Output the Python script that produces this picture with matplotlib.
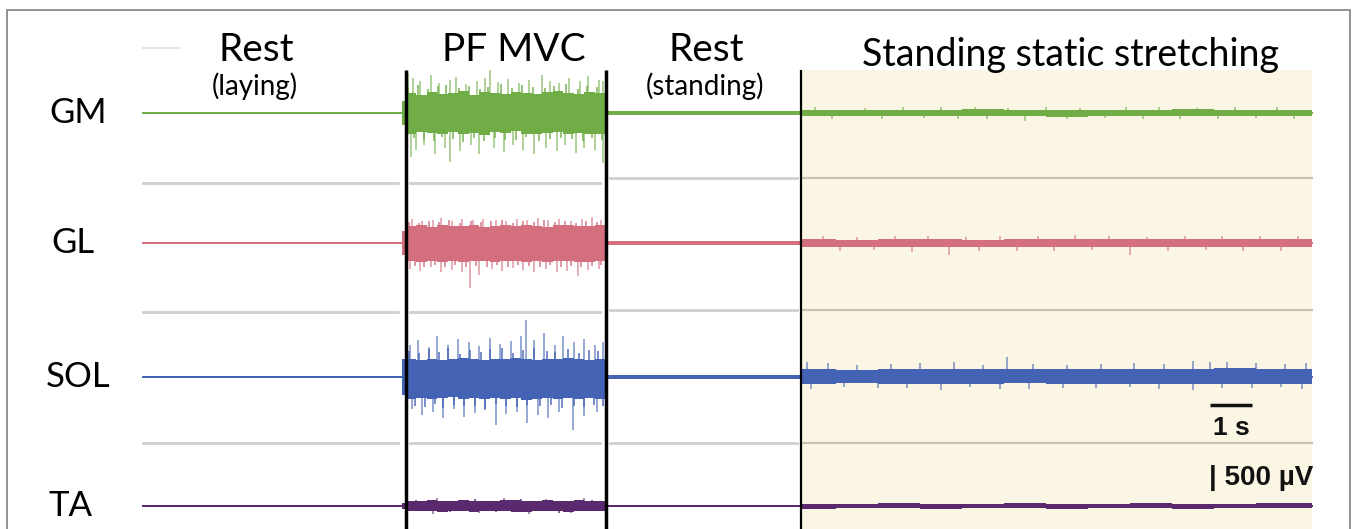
import matplotlib
matplotlib.use("Agg")
import matplotlib.pyplot as plt
from matplotlib.patches import Rectangle

# ---------------- data ----------------
MUSCLES = ["GM", "GL", "SOL", "TA"]
COLORS = ["#70AD47", "#D46F7E", "#4563B5", "#5B2A6E"]
PHASES = ["Rest", "PF MVC", "Rest", "Standing static stretching"]
PHASE_SUB = ["(laying)", "", "(standing)", ""]
PHASE_BOUNDS_S = [0.0, 6.26, 11.02, 15.67, 27.83]   # seconds
SCALE_T_S = 1.0          # time scale bar
SCALE_V_UV = 500         # amplitude scale bar

# envelope knots (s) — piecewise constant from each knot to the next
KNOT_T = [0.0, 6.17, 6.26, 6.5, 6.75, 7.0, 7.25, 7.5, 7.75, 8.0, 8.25, 8.5,
          8.75, 9.0, 9.25, 9.5, 9.75, 10.0, 10.25, 10.5, 10.75, 11.02,
          15.67, 16.5, 17.5, 18.5, 19.5, 20.5, 21.5, 22.5, 23.5, 24.5,
          25.5, 26.5, 27.83]

# core envelope half-amplitudes (µV) above / below the baseline
GM_UP = [25, 270, 430, 390, 450, 420, 440, 470, 400, 450, 430, 410, 460, 440,
         420, 450, 470, 430, 410, 450, 440, 45, 70, 65, 75, 70, 80, 65, 70, 75,
         70, 80, 70, 75, 70]
GM_LO = [25, 270, 450, 420, 440, 460, 410, 450, 430, 470, 420, 440, 400, 450,
         460, 430, 420, 450, 440, 460, 450, 45, 65, 70, 70, 75, 70, 70, 80, 65,
         70, 75, 70, 70, 70]
GL_UP = [20, 260, 360, 380, 350, 390, 370, 360, 380, 350, 370, 390, 360, 380,
         370, 350, 380, 390, 360, 370, 380, 35, 80, 75, 85, 80, 75, 85, 80, 90,
         80, 85, 80, 85, 80]
GL_LO = [20, 260, 400, 420, 390, 410, 380, 420, 400, 390, 410, 380, 400, 420,
         390, 410, 400, 380, 420, 410, 400, 35, 85, 80, 90, 85, 80, 85, 80, 85,
         80, 90, 85, 80, 85]
SOL_UP = [22, 400, 380, 360, 400, 370, 390, 410, 380, 360, 400, 390, 420, 380,
          370, 400, 390, 410, 380, 370, 400, 45, 170, 160, 180, 170, 165, 175,
          180, 170, 165, 175, 185, 170, 175]
SOL_LO = [22, 400, 470, 450, 480, 460, 440, 470, 460, 480, 450, 470, 460, 490,
          470, 450, 480, 460, 470, 450, 470, 45, 150, 140, 155, 145, 150, 140,
          150, 155, 145, 150, 155, 145, 150]
TA_UP = [22, 60, 110, 100, 120, 110, 105, 125, 110, 115, 100, 120, 130, 110,
         105, 120, 115, 110, 125, 110, 115, 30, 50, 45, 55, 50, 50, 55, 45, 50,
         55, 50, 50, 55, 50]
TA_LO = [22, 60, 115, 110, 105, 120, 110, 115, 120, 105, 115, 110, 120, 125,
         110, 115, 105, 120, 110, 115, 110, 30, 55, 50, 50, 55, 50, 45, 55, 50,
         50, 55, 50, 50, 50]

# tall individual spikes (s, µV signed)
GM_SPK_T = [6.32, 6.42, 6.6, 6.85, 7.05, 7.3, 7.45, 7.7, 7.95, 8.15, 8.26, 8.45,
            8.7, 8.95, 9.2, 9.5, 9.7, 9.9, 10.15, 10.4, 10.6, 10.85, 10.95,
            6.38, 6.5, 6.7, 6.95, 7.2, 7.3, 7.55, 7.8, 8.0, 8.35, 8.6, 8.8,
            9.05, 9.3, 9.6, 9.85, 10.05, 10.3, 10.5, 10.75, 10.95,
            16.0, 17.2, 18.1, 19.0, 19.8, 20.6, 21.5, 22.3, 23.4, 24.2, 25.1,
            26.0, 27.0,
            16.4, 17.6, 18.6, 19.4, 20.1, 21.0, 22.0, 22.9, 23.8, 24.7, 25.6,
            26.5, 27.4]
GM_SPK_V = [870, 760, 700, 820, 650, 720, 780, 640, 700, 760, 930, 680,
            740, 660, 720, 820, 700, 650, 760, 690, 800, 720, 700,
            -950, -800, -700, -880, -760, -1060, -820, -700, -900, -760, -840,
            -700, -800, -900, -760, -820, -700, -860, -760, -800, -1080,
            120, 110, 140, 120, 130, 110, 125, 115, 130, 120, 110, 125, 120,
            -130, -120, -110, -140, -120, -170, -120, -110, -130, -120, -125,
            -115, -120]

GL_SPK_T = [6.4, 6.65, 6.9, 7.1, 7.35, 7.6, 7.85, 8.1, 8.4, 8.65, 8.9, 9.15,
            9.4, 9.65, 9.9, 10.2, 10.45, 10.7, 10.9,
            6.35, 6.6, 6.85, 7.1, 7.35, 7.6, 7.79, 8.0, 8.3, 8.55, 8.8, 9.05,
            9.3, 9.6, 9.85, 10.1, 10.35, 10.6, 10.85,
            16.2, 17.0, 17.9, 18.7, 19.6, 20.4, 21.3, 22.2, 23.0, 23.9, 24.8,
            25.7, 26.6, 27.5,
            16.6, 17.4, 18.3, 19.2, 19.9, 20.8, 21.7, 22.6, 23.5, 24.4, 25.3,
            26.2, 27.1]
GL_SPK_V = [520, 480, 500, 540, 470, 510, 490, 530, 500, 480, 520, 500,
            540, 490, 510, 470, 530, 560, 500,
            -560, -600, -520, -620, -580, -640, -980, -700, -560, -600, -540,
            -580, -620, -560, -640, -600, -720, -580, -560,
            150, 140, 160, 150, 140, 160, 150, 170, 150, 140, 160, 150, 145, 155,
            -170, -160, -190, -260, -170, -170, -180, -160, -250, -170, -160,
            -180, -170]

SOL_SPK_T = [6.35, 6.55, 6.8, 7.0, 7.25, 7.5, 7.75, 8.0, 8.25, 8.5, 8.75, 9.0,
             9.12, 9.3, 9.55, 9.8, 10.0, 10.25, 10.5, 10.75, 10.95,
             6.4, 6.65, 6.9, 7.15, 7.4, 7.65, 7.9, 8.15, 8.4, 8.65, 8.9, 9.15,
             9.4, 9.65, 9.9, 10.24, 10.5, 10.8,
             15.8, 16.3, 17.0, 17.8, 18.5, 19.3, 20.0, 20.57, 21.2, 22.0, 22.8,
             23.6, 24.3, 25.0, 25.4, 25.8, 26.5, 27.2, 27.7,
             15.9, 16.7, 17.5, 18.2, 19.0, 19.7, 20.4, 21.1, 21.9, 22.7, 23.5,
             24.2, 25.0, 25.7, 26.4, 27.1, 27.6]
SOL_SPK_V = [700, 800, 650, 900, 700, 820, 760, 680, 850, 720, 780, 900,
             1240, 800, 960, 700, 880, 760, 820, 700, 760,
             -700, -820, -760, -900, -700, -860, -780, -720, -1040, -800, -760,
             -1000, -820, -880, -760, -1150, -840, -760,
             330, 300, 260, 280, 300, 320, 270, 430, 290, 260, 280, 310, 290,
             350, 330, 320, 300, 280, 310,
             -260, -220, -240, -230, -280, -220, -250, -260, -230, -240, -220,
             -250, -280, -230, -240, -220, -250]

TA_SPK_T = [7.0, 8.6, 9.6, 10.5, 6.9, 8.0, 9.2, 10.2]
TA_SPK_V = [170, 180, 160, 170, -170, -160, -170, -160]

# short spikes that fringe the burst edges during the MVC (s, µV signed)
GM_FINE_T = [6.30, 6.45, 6.55, 6.68, 6.78, 6.92, 7.02, 7.12, 7.22, 7.38, 7.52,
             7.62, 7.75, 7.88, 8.02, 8.12, 8.22, 8.38, 8.52, 8.62, 8.78, 8.88,
             9.02, 9.12, 9.28, 9.42, 9.58, 9.68, 9.78, 9.95, 10.08, 10.22,
             10.35, 10.48, 10.58, 10.7, 10.8, 10.92]
GM_FINE_V = [560, -540, 600, -580, 520, -600, 580, -520, 610, -560, 540, -620,
             590, -550, 530, -600, 570, -540, 620, -580, 550, -590, 600, -530,
             560, -610, 540, -570, 590, -550, 620, -560, 530, -600, 580, -540,
             560, -590]
GL_FINE_T = [6.33, 6.47, 6.58, 6.7, 6.82, 6.95, 7.05, 7.18, 7.28, 7.42, 7.55,
             7.68, 7.8, 7.92, 8.05, 8.18, 8.28, 8.42, 8.55, 8.68, 8.8, 8.92,
             9.05, 9.18, 9.3, 9.45, 9.55, 9.7, 9.82, 9.95, 10.05, 10.18, 10.3,
             10.42, 10.55, 10.68, 10.8, 10.9]
GL_FINE_V = [460, -500, 440, -520, 480, -470, 450, -510, 490, -480, 430, -530,
             470, -490, 450, -520, 480, -470, 500, -510, 440, -480, 470, -500,
             450, -530, 490, -470, 460, -510, 480, -490, 440, -520, 470, -500,
             460, -480]
SOL_FINE_T = [6.33, 6.48, 6.58, 6.71, 6.81, 6.95, 7.05, 7.15, 7.25, 7.41, 7.55,
              7.65, 7.78, 7.91, 8.05, 8.15, 8.25, 8.41, 8.55, 8.65, 8.81, 8.91,
              9.05, 9.15, 9.31, 9.45, 9.61, 9.71, 9.81, 9.98, 10.11, 10.25,
              10.38, 10.51, 10.61, 10.73, 10.83, 10.95]
SOL_FINE_V = [560, -620, 520, -660, 600, -580, 540, -680, 620, -600, 500, -640,
              580, -620, 540, -700, 600, -580, 640, -620, 520, -660, 580, -600,
              620, -640, 560, -600, 540, -680, 600, -620, 520, -660, 580, -600,
              560, -640]
TA_FINE_T = [6.5, 7.3, 7.9, 8.4, 9.0, 9.9, 10.7]
TA_FINE_V = [140, -140, 150, -130, 145, -150, 140]

ENV_UP = [GM_UP, GL_UP, SOL_UP, TA_UP]
ENV_LO = [GM_LO, GL_LO, SOL_LO, TA_LO]
SPK_T = [GM_SPK_T, GL_SPK_T, SOL_SPK_T, TA_SPK_T]
SPK_V = [GM_SPK_V, GL_SPK_V, SOL_SPK_V, TA_SPK_V]
FINE_T = [GM_FINE_T, GL_FINE_T, SOL_FINE_T, TA_FINE_T]
FINE_V = [GM_FINE_V, GL_FINE_V, SOL_FINE_V, TA_FINE_V]

# ---------------- layout ----------------
W, H = 1358, 529
X0_PX = 143          # pixel of t = 0
PX_PER_S = 42.0
UV_PER_PX = 21.7
BASE_PX = [113, 243, 377, 506]
LABEL_X_PX = [78, 73, 78, 70]
TITLE_X_PX = [256, 514, 706, 1070]
TITLE_Y_PX = [50, 50, 50, 55]
TITLE_SIZE = [28, 28, 28, 27]


def tx(px):
    return (px - X0_PX) / PX_PER_S


def ty(py):
    return -py * UV_PER_PX


fig = plt.figure(figsize=(W / 100, H / 100), dpi=100)
ax = fig.add_axes([0, 0, 1, 1])
ax.set_xlim(tx(0), tx(W))
ax.set_ylim(ty(H), ty(0))
ax.axis("off")

TITLE_FONT = ["Lato", "DejaVu Sans"]
BOLD_FONT = ["Liberation Sans", "DejaVu Sans"]

# outer frame
ax.add_patch(Rectangle((tx(7), ty(545)), tx(1350) - tx(7), ty(10) - ty(545),
                       fill=False, ec="#8a8a8a", lw=1.3, zorder=1))

# beige stretching region
t_str = PHASE_BOUNDS_S[3]
t_end = PHASE_BOUNDS_S[4]
ax.add_patch(Rectangle((t_str, ty(H)), t_end - t_str, ty(70) - ty(H),
                       fc="#FBF5E4", ec="none", zorder=0))

# separators
ax.plot([tx(143), tx(180)], [ty(48), ty(48)], color="#E6E6E6", lw=1.5, zorder=1)
for yl, yr in [(183, 178), (312, 310), (443, 443)]:
    ax.plot([tx(143), tx(398)], [ty(yl)] * 2, color="#CFCFCF", lw=2, zorder=1)
    ax.plot([tx(410), tx(600)], [ty(yl)] * 2, color="#CFCFCF", lw=2, zorder=1)
    ax.plot([tx(610), tx(797)], [ty(yr)] * 2, color="#CFCFCF", lw=2, zorder=1)
    ax.plot([tx(803), tx(1312)], [ty(yr)] * 2, color="#C9C1AE", lw=1.6, zorder=1)

# signals
for i, m in enumerate(MUSCLES):
    off = ty(BASE_PX[i])
    c = COLORS[i]
    up = [off + v for v in ENV_UP[i]]
    lo = [off - v for v in ENV_LO[i]]
    ax.fill_between(KNOT_T, lo, up, step="post", color=c, lw=0, zorder=3)
    ax.plot([PHASE_BOUNDS_S[0], PHASE_BOUNDS_S[-1]], [off, off], color=c,
            lw=1.4, zorder=3)
    ax.vlines(FINE_T[i], off, [off + v for v in FINE_V[i]], color=c, lw=1.2,
              alpha=0.85, zorder=3)
    ax.vlines(SPK_T[i], off, [off + v for v in SPK_V[i]], color=c, lw=1.3,
              alpha=0.6, zorder=3)
    ax.text(tx(LABEL_X_PX[i]), off, m, fontsize=25, family=TITLE_FONT,
            ha="center", va="center", color="black")

# phase boundaries
for t, lw in zip(PHASE_BOUNDS_S[1:4], [2.5, 2.5, 1.6]):
    ax.plot([t, t], [ty(70), ty(H + 5)], color="black", lw=lw, zorder=5,
            solid_capstyle="butt")

# phase titles
for xp, yp, fs, name, sub in zip(TITLE_X_PX, TITLE_Y_PX, TITLE_SIZE, PHASES,
                                 PHASE_SUB):
    ax.text(tx(xp), ty(yp), name, fontsize=fs, family=TITLE_FONT, ha="center",
            va="center", color="black", zorder=6)
    if sub:
        ax.text(tx(xp - 1), ty(86), sub, fontsize=20, family=TITLE_FONT,
                ha="center", va="center", color="black", zorder=6)

# scale bars
sb_t0 = tx(1210)
ax.plot([sb_t0, sb_t0 + SCALE_T_S], [ty(405), ty(405)], color="#111111",
        lw=2.5, zorder=6, solid_capstyle="butt")
ax.text(sb_t0 + SCALE_T_S / 2, ty(428), f"{SCALE_T_S:g} s", fontsize=19,
        family=BOLD_FONT, weight="bold", ha="center", va="center",
        color="#111111", zorder=6)
ax.text(tx(1209), ty(478), f"| {SCALE_V_UV} µV", fontsize=20, family=BOLD_FONT,
        weight="bold", ha="left", va="center", color="#111111", zorder=6)

fig.savefig("out.png", dpi=100)
